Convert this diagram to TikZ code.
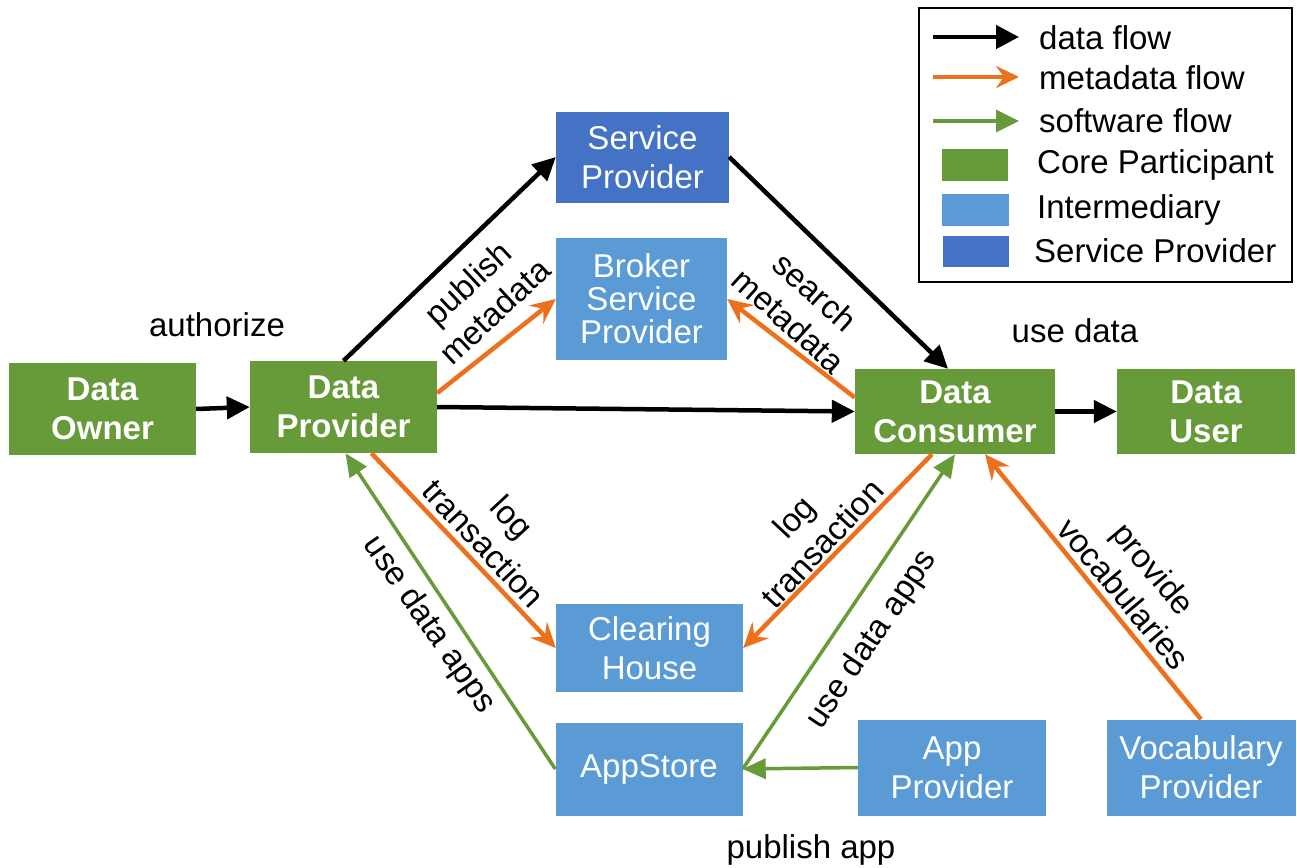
\documentclass[tikz,border=0pt]{standalone}
\usepackage{fontspec}
\setmainfont{Liberation Sans}
\usetikzlibrary{arrows.meta}
\definecolor{coregreen}{RGB}{103,154,57}
\definecolor{interblue}{RGB}{91,155,213}
\definecolor{servblue}{RGB}{68,114,196}
\definecolor{metaorange}{RGB}{237,113,28}
\tikzset{
  box/.style={inner sep=0pt, align=center, text=white, font=\fontsize{33}{39}\selectfont},
  core/.style={box, fill=coregreen, font=\fontsize{33}{39}\selectfont\bfseries},
  inter/.style={box, fill=interblue},
  servp/.style={box, fill=servblue},
  dataflow/.style={line width=4.5pt, -{Triangle[length=23pt,width=22pt]}},
  metaflow/.style={metaorange, line width=4.5pt, -{Stealth[length=25pt,width=23pt,inset=9pt]}},
  softflow/.style={coregreen, line width=3.5pt, -{Triangle[length=23pt,width=20pt]}},
  lbl/.style={font=\fontsize{33}{39}\selectfont, align=center, inner sep=0pt},
}

\begin{document}
\begin{tikzpicture}[x=1pt, y=-1pt]
      \useasboundingbox (0,0) rectangle (1297,867);
      % participants
      \node [core, minimum width=187, minimum height=92] (owner) at (102.5,409) {Data\\Owner};
      \node [core, minimum width=187, minimum height=92] (provider) at (343.5,407) {Data\\Provider};
      \node [core, minimum width=200, minimum height=85] (consumer) at (955,411.5) {Data\\Consumer};
      \node [core, minimum width=178, minimum height=85] (user) at (1206,411.5) {Data\\User};
      \node [servp, minimum width=173, minimum height=91] (service) at (642.5,157) {Service\\Provider};
      \node [inter, minimum width=171, minimum height=122] (broker) at (641.5,299) {Broker\\[-6pt]Service\\[-6pt]Provider};
      \node [inter, minimum width=187, minimum height=88] (clearing) at (649.5,648) {Clearing\\House};
      \node [inter, minimum width=187, minimum height=93] (appstore) at (649,769) {AppStore};
      \node [inter, minimum width=188, minimum height=96] (appprov) at (952,767.5) {App\\Provider};
      \node [inter, minimum width=189, minimum height=96] (vocab) at (1201,767.5) {Vocabulary\\Provider};

      % data flow
      \draw [dataflow] (owner.east) -- (provider.west);
      \draw [dataflow] (provider.north) -- (service.west);
      \draw [dataflow] (service.east) -- ([xshift=-7pt]consumer.north);
      \draw [dataflow] (provider.east) -- (consumer.west);
      \draw [dataflow] (consumer.east) -- (user.west);

      % metadata flow
      \draw [metaflow] ([yshift=14pt]provider.east) -- (broker.west);
      \draw [metaflow] ([yshift=14pt]consumer.west) -- (broker.east);
      \draw [metaflow] ([xshift=28pt]provider.south) -- (clearing.west);
      \draw [metaflow] ([xshift=-23pt]consumer.south) -- (clearing.east);
      \draw [metaflow] (vocab.north) -- ([xshift=30pt]consumer.south);

      % software flow
      \draw [softflow] (appstore.west) -- ([xshift=2pt]provider.south);
      \draw [softflow] (appstore.east) -- (consumer.south);
      \draw [softflow] (appprov.west) -- (appstore.east);

      % labels
      \node [lbl] (lauth) at (217,325) {authorize};
      \node [lbl] (luse) at (1075,331) {use data};
      \node [lbl] (lpubapp) at (811,850) {publish app};
      \node [lbl, rotate=43] (lpubmeta) at (481,297) {publish\\metadata};
      \node [lbl, rotate=-42] (lsearch) at (802,306) {search\\metadata};
      \node [lbl, rotate=-47] (llogl) at (498,530) {log\\transaction};
      \node [lbl, rotate=47] (llogr) at (808,530) {log\\transaction};
      \node [lbl, rotate=-55] (lappsl) at (429,625) {use data apps};
      \node [lbl, rotate=56] (lappsr) at (872,640) {use data apps};
      \node [lbl, rotate=-50] (lvocab) at (1139,581) {provide\\vocabularies};

      % legend
      \draw [line width=2pt] (919,8) rectangle (1292,282);
      \coordinate (k1a) at (933,37);  \coordinate (k1b) at (1019,37);
      \coordinate (k2a) at (933,77);  \coordinate (k2b) at (1019,77);
      \coordinate (k3a) at (933,121); \coordinate (k3b) at (1019,121);
      \draw [line width=4.5pt, -{Triangle[length=23pt,width=23pt]}] (k1a) -- (k1b);
      \draw [metaorange, line width=4pt, -{Stealth[length=23pt,width=22pt,inset=8pt]}] (k2a) -- (k2b);
      \draw [coregreen, line width=3.5pt, -{Triangle[length=23pt,width=22pt]}] (k3a) -- (k3b);
      \node [lbl, anchor=west] (t1) at (1039,38) {data flow};
      \node [lbl, anchor=west] (t2) at (1039,78) {metadata flow};
      \node [lbl, anchor=west] (t3) at (1039,121) {software flow};
      \fill [coregreen] (942,149) rectangle (1008,181);
      \fill [interblue] (942,194) rectangle (1009,226);
      \fill [servblue] (943,236) rectangle (1009,267);
      \node [lbl, anchor=west] (t4) at (1037,165) {Core Participant};
      \node [lbl, anchor=west] (t5) at (1037,210) {Intermediary};
      \node [lbl, anchor=west] (t6) at (1034,251) {Service Provider};
\end{tikzpicture}
\end{document}
